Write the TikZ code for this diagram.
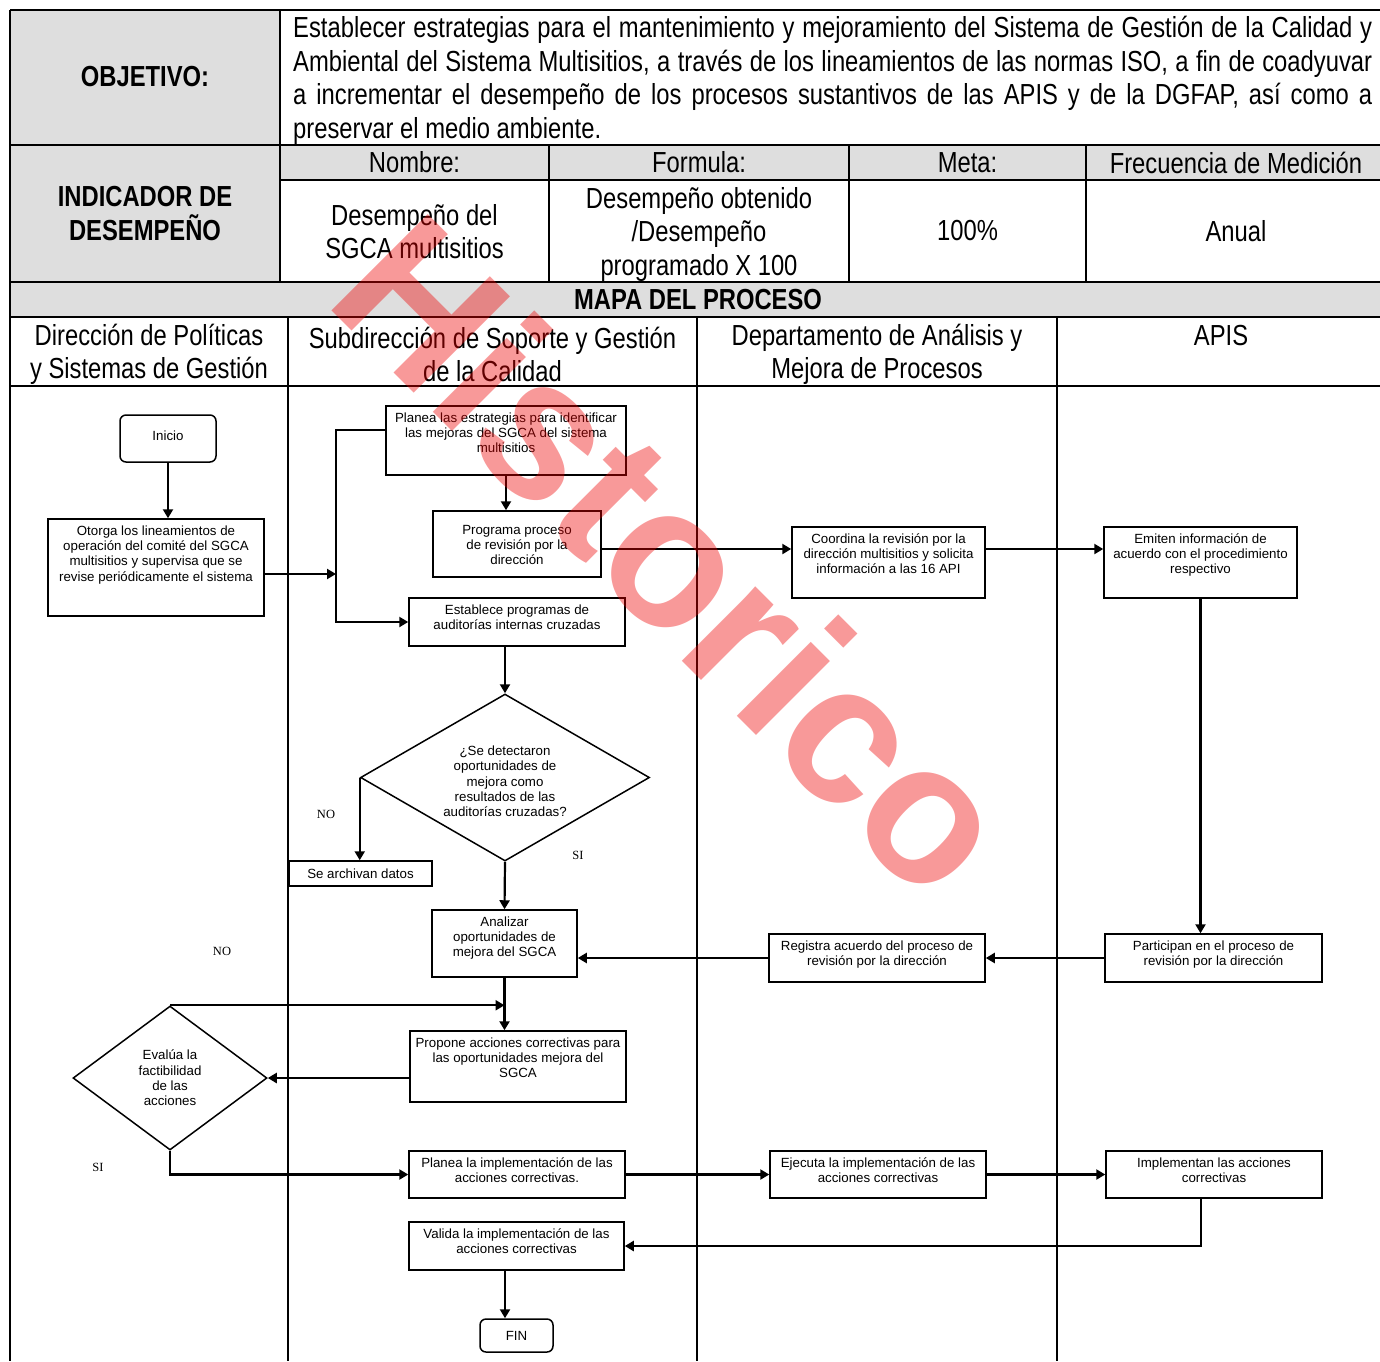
\documentclass[tikz,border=0pt]{standalone}
\usepackage{fontspec}
\setmainfont{Liberation Sans}
\newfontfamily\narrowfont{Liberation Sans}[FakeStretch=0.82]
\newfontfamily\serifont{Liberation Serif}
\usepackage{tikz}
\usetikzlibrary{shapes.geometric,arrows.meta}

% caja de texto alineado arriba: ancho, alto, texto
\newcommand{\tbox}[3]{\parbox[c][\dimexpr #2pt-11pt\relax][t]{\dimexpr #1pt-4pt\relax}{\centering\strut #3}}

\tikzset{
  tabline/.style={line width=1.8pt},
  proc/.style={draw, line width=1.5pt, inner xsep=2pt, inner ysep=5.5pt, font=\fontsize{13.3}{15.3}\selectfont},
  term/.style={draw, line width=1.5pt, rounded corners=6pt, inner sep=0pt, font=\fontsize{13.3}{15.3}\selectfont},
  dec/.style={draw, shape=diamond, line width=1.5pt, inner sep=0pt, align=center, font=\fontsize{13.3}{15.3}\selectfont},
  lbl/.style={font=\serifont\fontsize{12.5}{14}\selectfont},
  conn/.style={line width=2.2pt, -{Triangle[length=9pt,width=10pt]}},
  hdr/.style={align=center, font=\narrowfont\fontsize{29}{33.5}\selectfont},
  hdrb/.style={align=center, font=\narrowfont\bfseries\fontsize{29}{33.5}\selectfont}
}

\begin{document}
\begin{tikzpicture}[x=1pt,y=-1pt]
\definecolor{cgris}{rgb}{0.87,0.87,0.87}
\definecolor{cmarca}{rgb}{0.93,0.0,0.0}
\useasboundingbox (0,0) rectangle (1380,1361);
%
\fill[cgris] (10,10) rectangle (280,282);
\fill[cgris] (280,145) rectangle (1380,180);
\fill[cgris] (10,282) rectangle (1380,317);
\foreach \y in {10,145,282,317,386}
  \draw[tabline] (10,\y) -- (1380,\y);
\draw[tabline] (280,180) -- (1380,180);
\draw[tabline] (10,10) -- (10,1361);
\draw[tabline] (280,10) -- (280,282);
\foreach \x in {549,849,1086}
  \draw[tabline] (\x,145) -- (\x,282);
\foreach \x in {288,697,1057}
  \draw[tabline] (\x,317) -- (\x,1361);
%
\node[hdrb] (objlbl) at (145,77) {OBJETIVO:};
\node[hdr, align=justify, text width=1079pt, inner sep=0pt, anchor=base west] (objtxt) at (293,37.5)
  {Establecer estrategias para el mantenimiento y mejoramiento del Sistema de Gestión de la Calidad y\linebreak
   Ambiental del Sistema Multisitios, a través de los lineamientos de las normas ISO, a fin de coadyuvar\linebreak
   a incrementar el desempeño de los procesos sustantivos de las APIS y de la DGFAP, así como a\linebreak
   preservar el medio ambiente.};
\node[hdrb] (indlbl) at (145,213.5) {INDICADOR DE\\DESEMPEÑO};
\node[hdr] (hnom) at (414.5,162.5) {Nombre:};
\node[hdr] (hfor) at (699,162.5) {Formula:};
\node[hdr] (hmeta) at (967.5,162.5) {Meta:};
\node[hdr] (hfrec) at (1236,162.5) {Frecuencia de Medición};
\node[hdr] (vnom) at (414.5,231.5) {Desempeño del\\SGCA multisitios};
\node[hdr] (vfor) at (699,234) {Desempeño obtenido\\/Desempeño\\programado X 100};
\node[hdr] (vmeta) at (967.5,231) {100\%};
\node[hdr] (vfrec) at (1236,231) {Anual};
\node[hdrb] (mapa) at (698,299.5) {MAPA DEL PROCESO};
\node[hdr] (lane1) at (149,354.5) {Dirección de Políticas\\y Sistemas de Gestión};
\node[hdr] (lane2) at (492.5,354.5) {Subdirección de Soporte y Gestión\\de la Calidad};
\node[hdr] (lane3) at (877,354.5) {Departamento de Análisis y\\Mejora de Procesos};
\node[hdr] (lane4) at (1221,336) {APIS};
%
\node[term, minimum width=96pt, minimum height=47pt] (inicio) at (168,438.5) {\raisebox{6pt}{Inicio}};
\node[proc] (otorga) at (156,567.5) {\tbox{216}{97}{Otorga los lineamientos de\\operación del comité del SGCA\\multisitios y supervisa que se\\revise periódicamente el sistema}};
\node[proc] (planea) at (506,440.5) {\tbox{240}{69}{Planea las estrategias para identificar\\las mejoras del SGCA del sistema\\multisitios}};
\node[proc] (programa) at (517,544) {\tbox{168}{66}{\rule{0pt}{17.5pt}Programa proceso\\de revisión por la\\dirección}};
\node[proc] (establece) at (517,622) {\tbox{216}{48}{Establece programas de\\auditorías internas cruzadas}};
\node[dec, aspect=1.73, minimum width=289pt, minimum height=167pt] (detecta) at (505,777.5)
  {\rule{0pt}{17.5pt}¿Se detectaron\\oportunidades de\\mejora como\\resultados de las\\auditorías cruzadas?};
\node[proc, inner ysep=0pt, minimum width=143pt, minimum height=25pt] (archiva) at (360.5,873.5) {Se archivan datos};
\node[proc] (analiza) at (504.5,943.5) {\tbox{145}{67}{Analizar\\oportunidades de\\mejora del SGCA}};
\node[proc] (propone) at (518,1066.5) {\tbox{216}{71}{Propone acciones correctivas para\\las oportunidades mejora del\\SGCA}};
\node[dec, aspect=1.35, minimum width=194pt, minimum height=144pt] (evalua) at (170,1078)
  {Evalúa la\\factibilidad\\de las\\acciones};
\node[proc] (planimp) at (517,1174.5) {\tbox{216}{47}{Planea la implementación de las\\acciones correctivas.}};
\node[proc] (valida) at (516.5,1246) {\tbox{215}{48}{Valida la implementación de las\\acciones correctivas}};
\node[term, minimum width=73pt, minimum height=33pt] (fin) at (516.5,1335.5) {FIN};
\node[proc] (coordina) at (888.5,562.5) {\tbox{193}{71}{Coordina la revisión por la\\dirección multisitios y solicita\\información a las 16 API}};
\node[proc] (emiten) at (1200.5,562.5) {\tbox{193}{71}{Emiten información de\\acuerdo con el procedimiento\\respectivo}};
\node[proc] (registra) at (877,958) {\tbox{216}{48}{Registra acuerdo del proceso de\\revisión por la dirección}};
\node[proc] (participan) at (1213.5,958) {\tbox{217}{48}{Participan en el proceso de\\revisión por la dirección}};
\node[proc] (ejecuta) at (878,1174.5) {\tbox{216}{47}{Ejecuta la implementación de las\\acciones correctivas}};
\node[proc] (implementan) at (1214,1174.5) {\tbox{216}{47}{Implementan las acciones\\correctivas}};
%
\node[lbl] (no1) at (326,814) {NO};
\node[lbl] (si1) at (578,855) {SI};
\node[lbl] (no2) at (222,951) {NO};
\node[lbl] (si2) at (98,1167) {SI};
%
\coordinate (bus) at (336,430);
\coordinate (busin) at (336,574);
\draw[conn] (inicio.south) -- (inicio.south |- otorga.north);
\draw[conn] (otorga.east |- busin) -- (busin);
\draw[conn] (planea.west |- bus) -- (bus) |- (establece.west);
\draw[conn] (planea.south) -- (planea.south |- programa.north);
\draw[conn] ([yshift=-5pt]programa.east) -- ([yshift=-5pt]programa.east -| coordina.west);
\draw[conn] ([yshift=-5pt]programa.east -| coordina.east) -- ([yshift=-5pt]programa.east -| emiten.west);
\draw[conn] (emiten.south) -- (emiten.south |- participan.north);
\draw[conn] (participan.west) -- (registra.east);
\draw[conn] (registra.west) -- (registra.west -| analiza.east);
\draw[conn] (establece.south -| detecta.north) -- (detecta.north);
\draw[conn] (detecta.west) -- (detecta.west |- archiva.north);
\draw[conn] (detecta.south) -- (analiza.north);
\draw[conn] (analiza.south) -- (analiza.south |- propone.north);
\draw[conn] (evalua.north) -- (evalua.north -| analiza.south);
\draw[conn] (propone.west |- evalua.east) -- (evalua.east);
\draw[conn] (evalua.south) |- (planimp.west);
\draw[conn] (planimp.east) -- (ejecuta.west);
\draw[conn] (ejecuta.east) -- (implementan.west);
\draw[conn] ([xshift=-13pt]implementan.south) |- (valida.east);
\draw[conn] ([xshift=-11.5pt]valida.south) -- ([xshift=-11.5pt]fin.north);
%
\node[rotate=-45, text=cmarca, text opacity=0.4, font=\bfseries\fontsize{198}{198}\selectfont] (marca) at (676,555) {Historico};
%
\end{tikzpicture}
\end{document}
